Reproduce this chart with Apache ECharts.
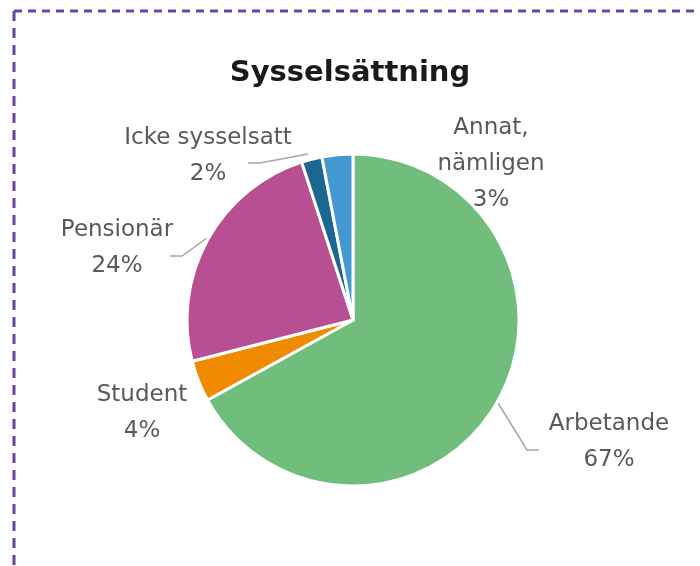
<!DOCTYPE html>
<html>
<head>
<meta charset="utf-8">
<script src="https://cdn.jsdelivr.net/npm/echarts@6/dist/echarts.min.js"></script>
<style>
  html, body { margin: 0; padding: 0; background: #fff; }
  #chart { width: 700px; height: 566px; }
</style>
</head>
<body>
<div id="chart"></div>
<script>
// data
const categories = ['Arbetande', 'Student', 'Pensionär', 'Icke sysselsatt', 'Annat,\nnämligen']
const values = [67, 4, 24, 2, 3]
const colors = ['#71bd7b', '#f08a00', '#b84f93', '#1c6692', '#4499d1']

// where each label sits (centre of text block) and its leader line, null = no line
const labelPos = [[609, 442], [142, 413], [117, 248], [208, 156], [491, 164]]
const linePts = [
  [[498, 403], [527, 450], [539, 450]],
  null,
  [[207, 238], [182, 256], [170, 256]],
  [[308, 154], [260, 163], [248, 163]],
  null
]

const chart = echarts.init(document.getElementById('chart'))

const seriesData = categories.map(function (name, i) {
  return {
    name: name,
    value: values[i],
    itemStyle: { color: colors[i] },
    labelLine: { show: linePts[i] !== null }
  }
})

const option = {
  backgroundColor: '#ffffff',
  title: {
    text: 'Sysselsättning',
    left: 'center',
    top: 54,
    textStyle: {
      fontFamily: 'DejaVu Sans',
      fontWeight: 'bold',
      fontSize: 29,
      color: '#1a1a1a'
    }
  },
  graphic: [
    // dashed frame, top and left edges
    {
      type: 'line',
      shape: { x1: 14, y1: 11, x2: 700, y2: 11 },
      style: { stroke: '#6b449e', lineWidth: 3, lineDash: [8, 6] }
    },
    {
      type: 'line',
      shape: { x1: 14, y1: 11, x2: 14, y2: 566 },
      style: { stroke: '#6b449e', lineWidth: 3, lineDash: [10, 7] }
    }
  ],
  series: [
    {
      type: 'pie',
      center: [353, 320],
      radius: 166,
      startAngle: 90,
      clockwise: true,
      animation: false,
      itemStyle: { borderColor: '#ffffff', borderWidth: 3 },
      label: {
        show: true,
        position: 'outside',
        formatter: function (p) { return p.name + '\n' + p.value + '%' },
        fontFamily: 'DejaVu Sans',
        fontSize: 23,
        lineHeight: 36,
        color: '#595959',
        align: 'center'
      },
      labelLine: {
        show: true,
        length: 20,
        length2: 12,
        lineStyle: { color: '#a6a6a6', width: 1.5 }
      },
      labelLayout: function (params) {
        const i = params.dataIndex
        const res = {
          x: labelPos[i][0],
          y: labelPos[i][1],
          align: 'center',
          verticalAlign: 'middle'
        }
        if (linePts[i]) res.labelLinePoints = linePts[i]
        return res
      },
      data: seriesData
    }
  ]
}

chart.clear()
chart.setOption(option)
window.addEventListener('resize', function () {
  chart.resize()
})
</script>
</body>
</html>
